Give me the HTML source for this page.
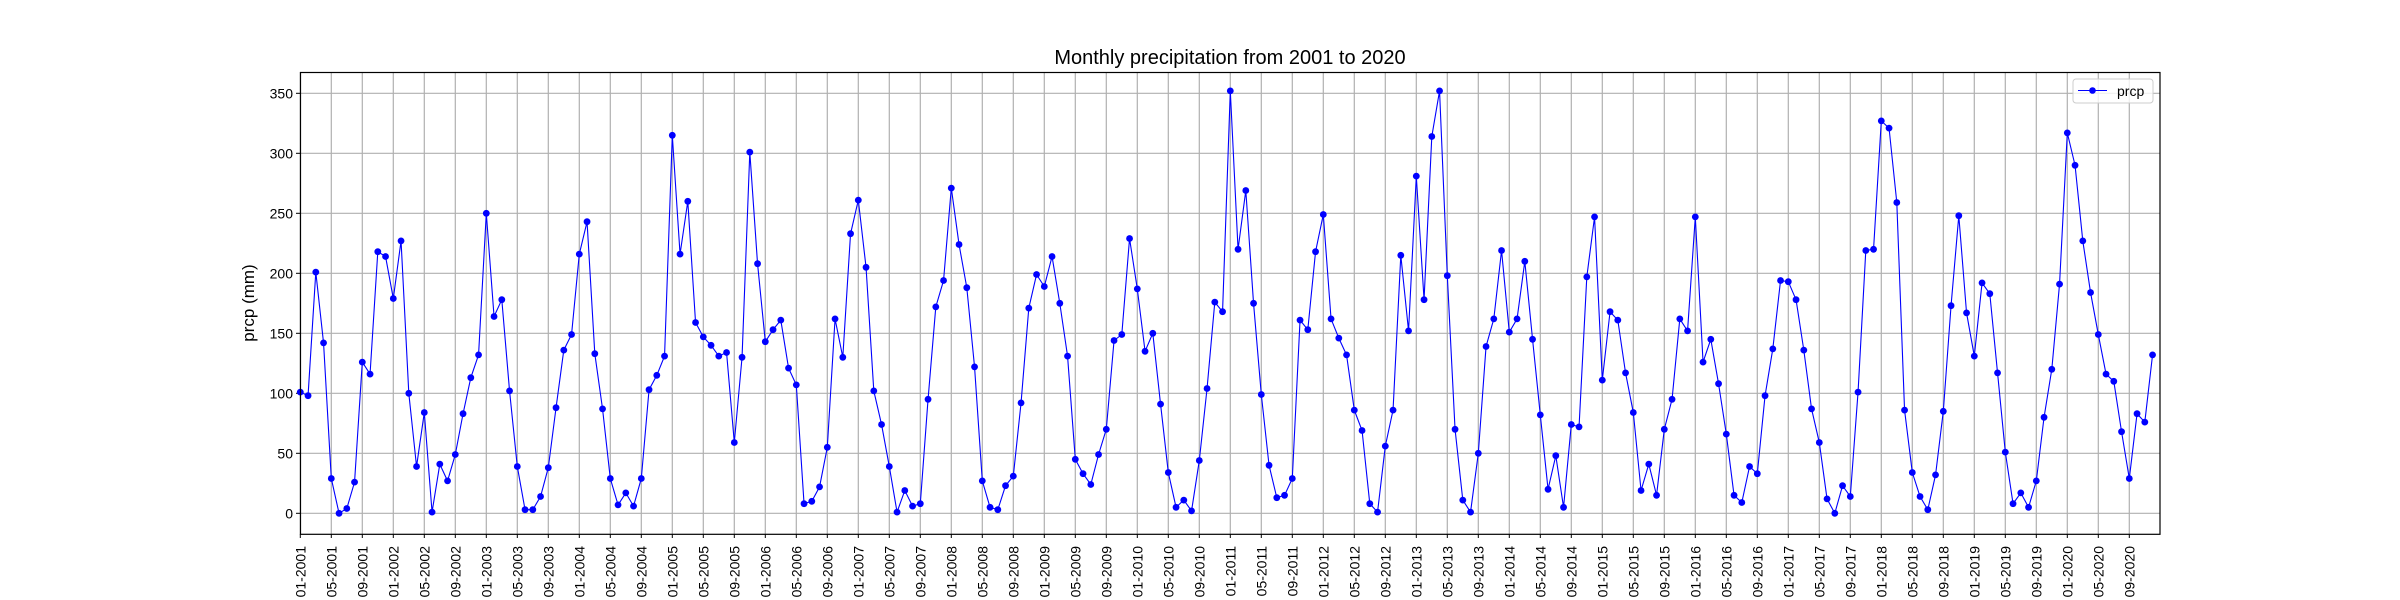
<!DOCTYPE html>
<html><head><meta charset="utf-8"><style>
html,body{margin:0;padding:0;background:#fff;}
svg{display:block;font-family:"Liberation Sans","DejaVu Sans",sans-serif;}
</style></head><body>
<svg id="chart" width="2400" height="600" xmlns="http://www.w3.org/2000/svg">
<rect width="2400" height="600" fill="#fff"/>
<g id="grid"></g>
<g id="xticks"></g>
<g id="yticks"></g>
<g id="series"></g>
<rect x="300.5" y="72.5" width="1859.5" height="461.8" fill="none" stroke="#000" stroke-width="1.2"/>
<text x="1230" y="64" font-size="20" text-anchor="middle">Monthly precipitation from 2001 to 2020</text>
<text x="0" y="0" font-size="17" text-anchor="middle" transform="translate(254,303) rotate(-90)">prcp (mm)</text>
<g>
<rect x="2073" y="79" width="80" height="24" rx="3" fill="#fff" fill-opacity="0.8" stroke="#ccc"/>
<line x1="2078" y1="90.5" x2="2107" y2="90.5" stroke="#0000ff" stroke-width="1"/>
<circle cx="2092.5" cy="90.5" r="3.3" fill="#0000ff"/>
<text x="2117" y="96" font-size="14">prcp</text>
</g>
</svg>
<script>
const values = [
101,98,201,142,29,0,4,26,126,116,218,214,
179,227,100,39,84,1,41,27,49,83,113,132,
250,164,178,102,39,3,3,14,38,88,136,149,
216,243,133,87,29,7,17,6,29,103,115,131,
315,216,260,159,147,140,131,134,59,130,301,208,
143,153,161,121,107,8,10,22,55,162,130,233,
261,205,102,74,39,1,19,6,8,95,172,194,
271,224,188,122,27,5,3,23,31,92,171,199,
189,214,175,131,45,33,24,49,70,144,149,229,
187,135,150,91,34,5,11,2,44,104,176,168,
352,220,269,175,99,40,13,15,29,161,153,218,
249,162,146,132,86,69,8,1,56,86,215,152,
281,178,314,352,198,70,11,1,50,139,162,219,
151,162,210,145,82,20,48,5,74,72,197,247,
111,168,161,117,84,19,41,15,70,95,162,152,
247,126,145,108,66,15,9,39,33,98,137,194,
193,178,136,87,59,12,0,23,14,101,219,220,
327,321,259,86,34,14,3,32,85,173,248,167,
131,192,183,117,51,8,17,5,27,80,120,191,
317,290,227,184,149,116,110,68,29,83,76,132
];
const yTicks = [0,50,100,150,200,250,300,350];
const startYear = 2001;
const tickEvery = 4;

const NS = "http://www.w3.org/2000/svg";
const X0 = 300.3, XPM = 7.75;
const Y0 = 513.3, YPU = 60/50;
const xs = i => X0 + i * XPM;
const ys = v => Y0 - v * YPU;
function mk(tag, attrs, parent){const e=document.createElementNS(NS,tag);for(const k in attrs)e.setAttribute(k,attrs[k]);parent.appendChild(e);return e;}
const grid=document.getElementById('grid'), xt=document.getElementById('xticks'), yt=document.getElementById('yticks'), ser=document.getElementById('series');

yTicks.forEach(v=>{
  const y=ys(v);
  const g=mk('line',{x1:300,x2:2160,y1:y,y2:y,stroke:'#b0b0b0','stroke-width':1.2},grid);
  
  
  mk('line',{x1:296,x2:300,y1:y,y2:y,stroke:'#000','stroke-width':1},yt);
  const t=mk('text',{x:293,y:y+5,'font-size':14,'text-anchor':'end'},yt);
  t.textContent=v;
  
  
});
for(let i=0;i<values.length;i+=tickEvery){
  const x=xs(i);
  const g=mk('line',{x1:x,x2:x,y1:72,y2:534,stroke:'#b0b0b0','stroke-width':1.2},grid);
  
  
  mk('line',{x1:x,x2:x,y1:534,y2:538,stroke:'#000','stroke-width':1},xt);
  const m=(i%12)+1, yr=startYear+Math.floor(i/12);
  const t=mk('text',{x:0,y:0,'font-size':14,'text-anchor':'end',transform:`translate(${x+5},546) rotate(-90)`},xt);
  t.textContent=(m<10?'0':'')+m+'-'+yr;
  
  
}
const pts=values.map((v,i)=>xs(i).toFixed(2)+','+ys(v).toFixed(2)).join(' ');
const pl=mk('polyline',{points:pts,fill:'none',stroke:'#0000ff','stroke-width':1.1},ser);


values.forEach((v,i)=>{
  const c=mk('circle',{cx:xs(i),cy:ys(v),r:3.4,fill:'#0000ff'},ser);
  
  
});
</script>
</body></html>
